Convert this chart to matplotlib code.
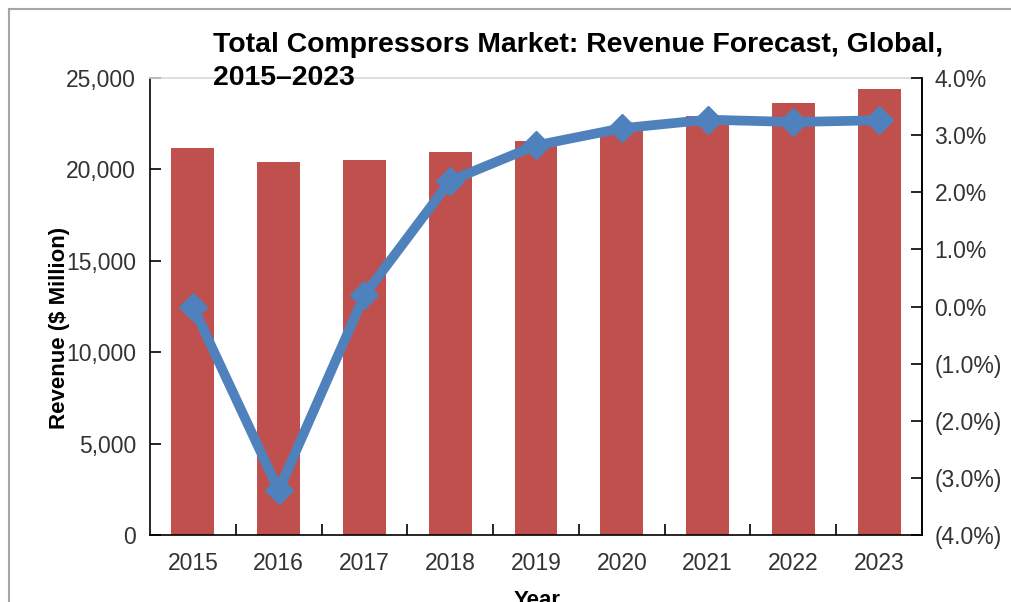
import matplotlib.pyplot as plt
from matplotlib.ticker import FuncFormatter, FixedLocator
import numpy as np

plt.rcParams['font.family'] = ['Liberation Sans', 'DejaVu Sans']

# Data
years = ['2015', '2016', '2017', '2018', '2019', '2020', '2021', '2022', '2023']
revenue = [21170, 20420, 20500, 20950, 21550, 22230, 22920, 23630, 24400]   # $ Million
growth = [0.0, -3.22, 0.2, 2.2, 2.82, 3.12, 3.27, 3.23, 3.26]               # percent

bar_color = '#C0504D'
line_color = '#4F81BD'
text_gray = '#333333'

fig = plt.figure(figsize=(10.11, 6.02), dpi=100)
ax = fig.add_axes([150 / 1011, 1 - 535 / 602, 772 / 1011, 457 / 602])

x = np.arange(len(years))
ax.bar(x, revenue, width=0.5, color=bar_color, zorder=2)

ax.set_xlim(-0.5, len(years) - 0.5)
ax.set_ylim(0, 25000)
ax.set_yticks(np.arange(0, 25001, 5000))
ax.yaxis.set_major_formatter(FuncFormatter(lambda v, p: f"{int(v):,}"))

# category labels centred, tick marks between categories
ax.set_xticks(x)
ax.set_xticklabels(years)
ax.xaxis.set_minor_locator(FixedLocator(np.arange(0.5, len(years) - 1, 1)))
ax.tick_params(axis='x', which='major', length=0, pad=12, labelsize=16.5, labelcolor=text_gray)
ax.tick_params(axis='x', which='minor', direction='in', length=8, width=1.2, color='black')
ax.tick_params(axis='y', direction='in', length=8, width=1.2, pad=10, labelsize=16.5,
               labelcolor=text_gray)

for side in ['left', 'bottom', 'right']:
    ax.spines[side].set_linewidth(1.2)
    ax.spines[side].set_color('black')
ax.spines['top'].set_color('#D9D9D9')
ax.spines['top'].set_linewidth(1.2)

# growth line on the secondary axis
ax2 = ax.twinx()
ax2.plot(x, growth, color=line_color, linewidth=7, marker='D', markersize=14,
         markerfacecolor=line_color, markeredgecolor=line_color, zorder=3)
ax2.set_ylim(-4, 4)
ax2.set_yticks(np.arange(-4, 4.01, 1))
ax2.yaxis.set_major_formatter(
    FuncFormatter(lambda v, p: f"{v:.1f}%" if v >= 0 else f"({-v:.1f}%)"))
ax2.tick_params(axis='y', direction='in', length=8, width=1.2, pad=9, labelsize=16.5,
                labelcolor=text_gray)
for side in ['left', 'bottom', 'top']:
    ax2.spines[side].set_visible(False)
ax2.spines['right'].set_linewidth(1.2)

# titles and axis labels
fig.text(213 / 1011, 1 - 52 / 602, 'Total Compressors Market: Revenue Forecast, Global,',
         fontsize=20.4, fontweight='bold', ha='left', va='baseline')
fig.text(213 / 1011, 1 - 85 / 602, '2015\u20132023',
         fontsize=20.4, fontweight='bold', ha='left', va='baseline')
fig.text(60 / 1011, 1 - 328 / 602, 'Revenue ($ Million)', rotation=90,
         fontsize=16, fontweight='bold', ha='center', va='center')
fig.text(537 / 1011, 1 - 590 / 602, 'Year', fontsize=16, fontweight='bold',
         ha='center', va='top')

# grey frame on the left and top edges
fig.add_artist(plt.Line2D([9 / 1011, 9 / 1011], [0, 1 - 9 / 602], color='#A6A6A6',
                          linewidth=1.5, transform=fig.transFigure))
fig.add_artist(plt.Line2D([9 / 1011, 1], [1 - 9 / 602, 1 - 9 / 602], color='#A6A6A6',
                          linewidth=1.5, transform=fig.transFigure))

fig.savefig('out.png', dpi=100)
